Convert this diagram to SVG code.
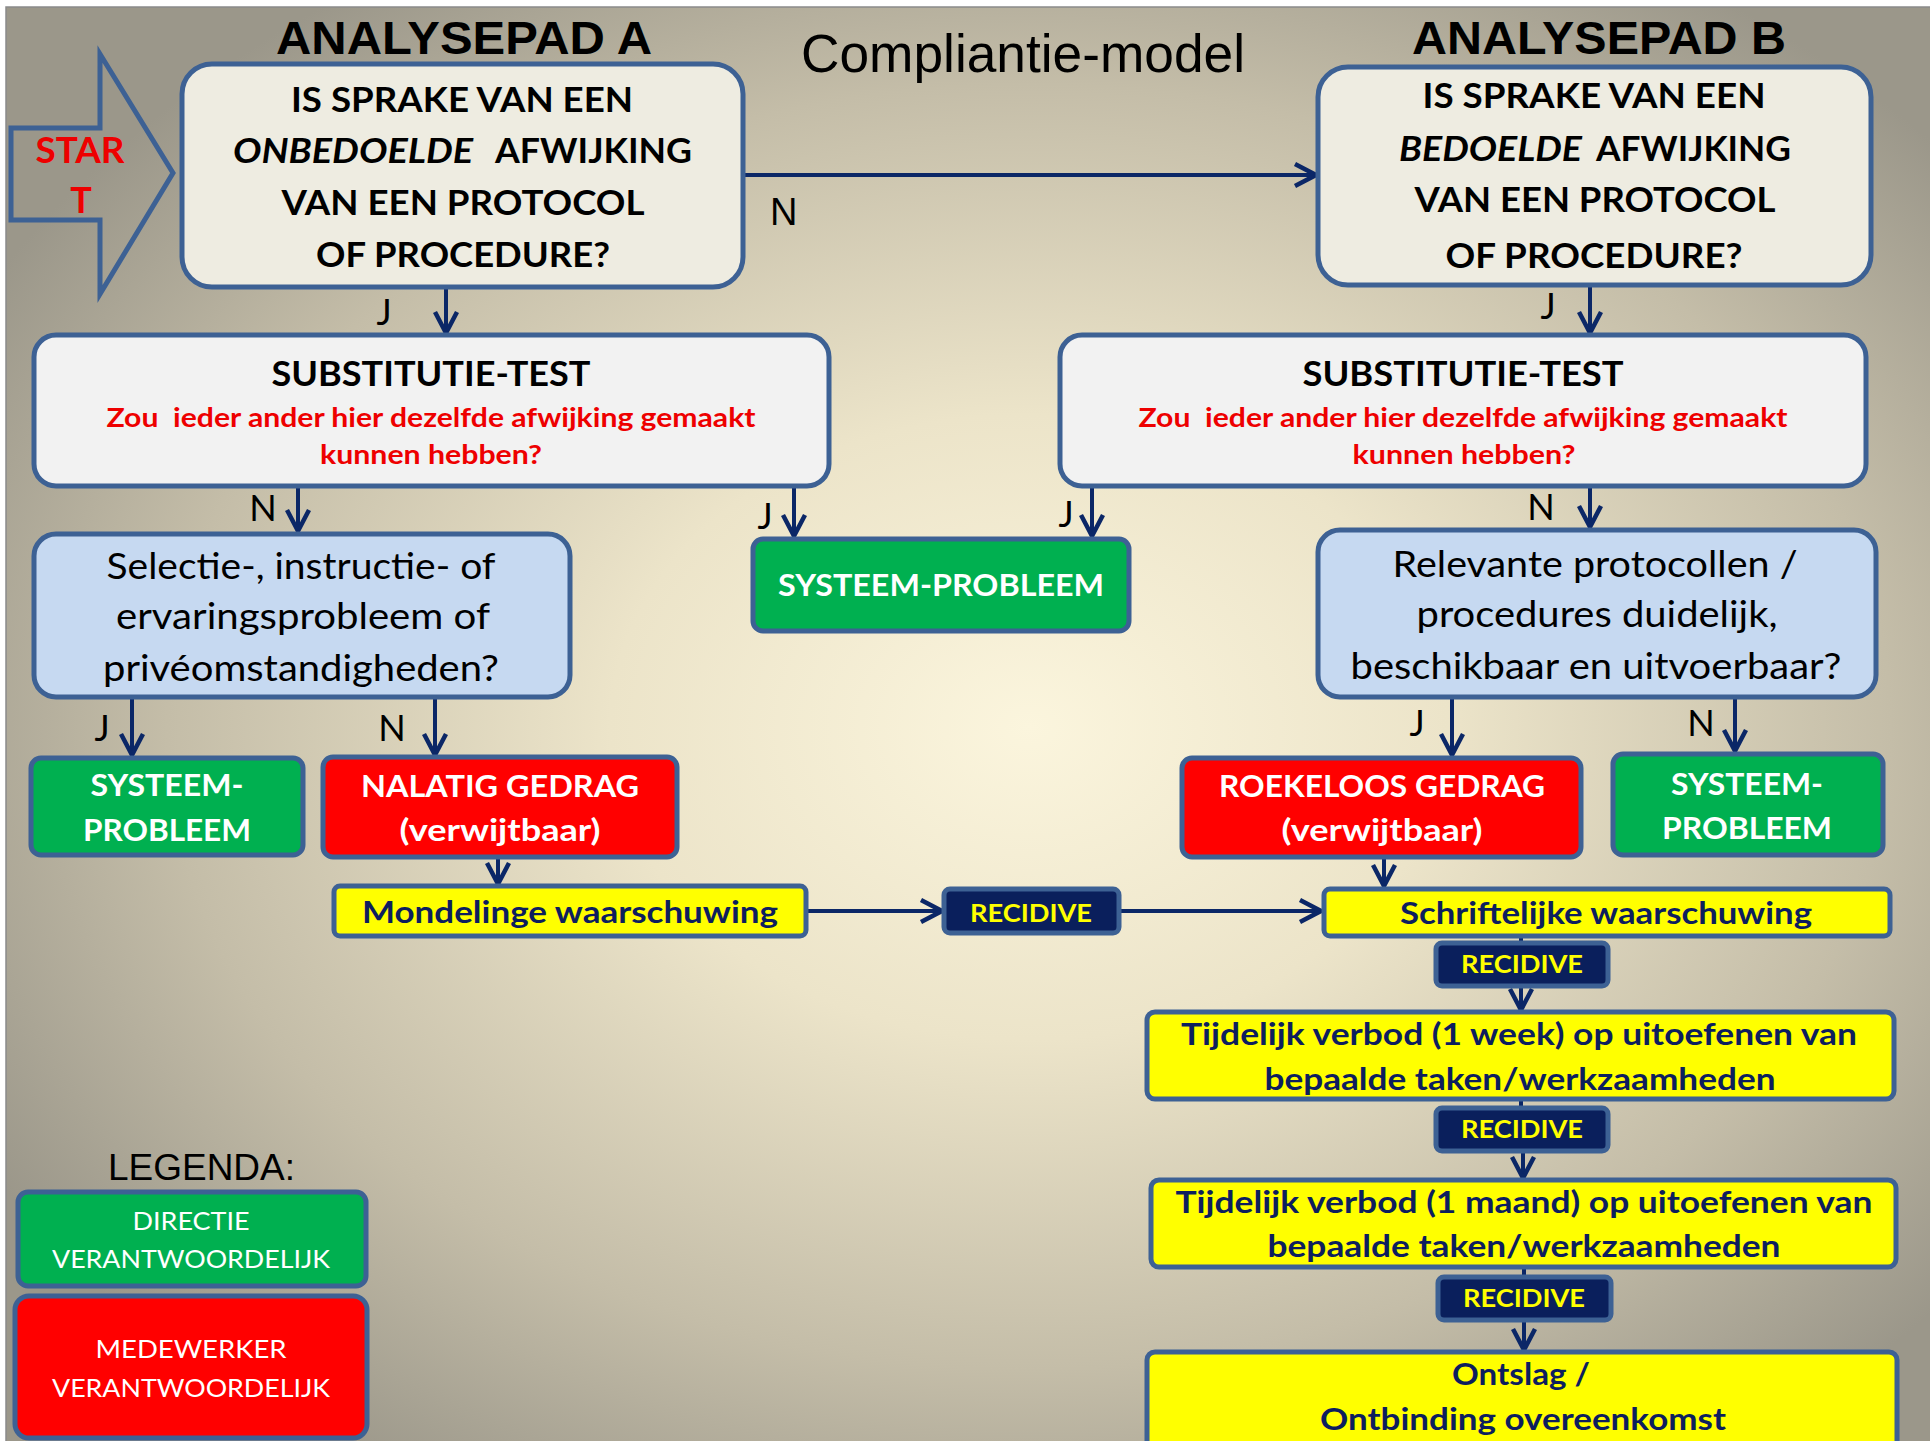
<svg xmlns="http://www.w3.org/2000/svg" width="1930" height="1441" viewBox="0 0 1930 1441">
<defs>
<radialGradient id="bg" cx="0.53" cy="0.5" r="0.62">
<stop offset="0" stop-color="#fbf5dd"/>
<stop offset="0.35" stop-color="#ece4c9"/>
<stop offset="0.72" stop-color="#c4bda8"/>
<stop offset="1" stop-color="#9b978a"/>
</radialGradient>
<marker id="ah" markerUnits="userSpaceOnUse" markerWidth="28" markerHeight="28" viewBox="0 0 28 28" refX="24" refY="14" orient="auto">
<path d="M3,3 L24,14 L3,25" fill="none" stroke="#0b2767" stroke-width="4.5" stroke-linejoin="miter"/>
</marker>
<style>
.bx{stroke:#3d6194;stroke-width:5}
.q{fill:#eeece1}
.s{fill:#f2f2f2}
.lb{fill:#c6d9f1}
.gr{fill:#00b050}
.rd{fill:#ff0000}
.ye{fill:#ffff00}
.nv{fill:#0a1f5c}
.c{font-family:Lato,"Open Sans","Noto Sans",sans-serif}
.b{font-weight:bold}
.m{text-anchor:middle}
.k{fill:#000}
.w{fill:#fff}
.r{fill:#ee0000}
.n{fill:#0d1e5e}
.y{fill:#ffff00}
.ar{font-family:"Liberation Sans",Arial,sans-serif}
.cn{fill:none;stroke:#0b2767;stroke-width:4}
</style>
</defs>
<rect width="1930" height="1441" fill="#ffffff"/>
<rect x="6" y="7" width="1930" height="1440" fill="url(#bg)" stroke="#8a8a8a" stroke-width="1.5"/>

<g id="titles">
<text class="ar b k m" x="464" y="54" font-size="47" textLength="376" lengthAdjust="spacingAndGlyphs">ANALYSEPAD A</text>
<text class="ar k" x="801" y="72" font-size="53" textLength="444" lengthAdjust="spacingAndGlyphs">Compliantie-model</text>
<text class="ar b k m" x="1599" y="54" font-size="47" textLength="374" lengthAdjust="spacingAndGlyphs">ANALYSEPAD B</text>
</g>

<g id="start">
<polygon points="11,128 100,128 100,54 173,173 100,294 100,220 11,220" fill="none" stroke="#3d6194" stroke-width="5"/>
<text class="c b m r" x="80" y="163" font-size="36" textLength="89" lengthAdjust="spacingAndGlyphs">STAR</text>
<text class="c b m r" x="81" y="213" font-size="36">T</text>
</g>

<g id="connectors">
<path class="cn" d="M744,175 H1316" marker-end="url(#ah)"/>
<path class="cn" d="M446,288 V333" marker-end="url(#ah)"/>
<path class="cn" d="M1590,286 V333" marker-end="url(#ah)"/>
<path class="cn" d="M298,487 V531" marker-end="url(#ah)"/>
<path class="cn" d="M794,487 V536" marker-end="url(#ah)"/>
<path class="cn" d="M1092,487 V536" marker-end="url(#ah)"/>
<path class="cn" d="M1590,487 V527" marker-end="url(#ah)"/>
<path class="cn" d="M132,698 V755" marker-end="url(#ah)"/>
<path class="cn" d="M435,698 V755" marker-end="url(#ah)"/>
<path class="cn" d="M1452,698 V755" marker-end="url(#ah)"/>
<path class="cn" d="M1735,698 V751" marker-end="url(#ah)"/>
<path class="cn" d="M498,858 V884" marker-end="url(#ah)"/>
<path class="cn" d="M1384,858 V886" marker-end="url(#ah)"/>
<path class="cn" d="M807,911 H942" marker-end="url(#ah)"/>
<path class="cn" d="M1119,911 H1321" marker-end="url(#ah)"/>
<path class="cn" d="M1521,937 V943"/>
<path class="cn" d="M1521,986 V1010" marker-end="url(#ah)"/>
<path class="cn" d="M1521,1099 V1108"/>
<path class="cn" d="M1523,1151 V1178" marker-end="url(#ah)"/>
<path class="cn" d="M1524,1267 V1277"/>
<path class="cn" d="M1524,1320 V1350" marker-end="url(#ah)"/>
</g>

<g id="labels">
<text class="ar k" x="770" y="225" font-size="38">N</text>
<text class="c k m" x="384" y="325" font-size="36">J</text>
<text class="c k m" x="1548" y="319" font-size="36">J</text>
<text class="c k m" x="263" y="521" font-size="36">N</text>
<text class="c k m" x="765" y="529" font-size="36">J</text>
<text class="c k m" x="1066" y="527" font-size="36">J</text>
<text class="c k m" x="1541" y="520" font-size="36">N</text>
<text class="c k m" x="102" y="741" font-size="36">J</text>
<text class="c k m" x="392" y="741" font-size="36">N</text>
<text class="c k m" x="1417" y="736" font-size="36">J</text>
<text class="c k m" x="1701" y="736" font-size="36">N</text>
</g>

<g id="q-a">
<rect class="bx q" x="182" y="64" width="561" height="223" rx="30"/>
<text class="c b k m" x="462" y="112" font-size="34" textLength="342" lengthAdjust="spacingAndGlyphs">IS SPRAKE VAN EEN</text>
<text class="c b k" x="233" y="163" font-size="34" font-style="italic" textLength="240" lengthAdjust="spacingAndGlyphs">ONBEDOELDE</text>
<text class="c b k" x="495" y="163" font-size="34" textLength="197" lengthAdjust="spacingAndGlyphs">AFWIJKING</text>
<text class="c b k m" x="463" y="215" font-size="34" textLength="363" lengthAdjust="spacingAndGlyphs">VAN EEN PROTOCOL</text>
<text class="c b k m" x="463" y="267" font-size="34" textLength="294" lengthAdjust="spacingAndGlyphs">OF PROCEDURE?</text>
</g>

<g id="q-b">
<rect class="bx q" x="1318" y="67" width="553" height="218" rx="30"/>
<text class="c b k m" x="1594" y="108" font-size="34" textLength="343" lengthAdjust="spacingAndGlyphs">IS SPRAKE VAN EEN</text>
<text class="c b k" x="1399" y="161" font-size="34" font-style="italic" textLength="183" lengthAdjust="spacingAndGlyphs">BEDOELDE</text>
<text class="c b k" x="1596" y="161" font-size="34" textLength="195" lengthAdjust="spacingAndGlyphs">AFWIJKING</text>
<text class="c b k m" x="1595" y="212" font-size="34" textLength="361" lengthAdjust="spacingAndGlyphs">VAN EEN PROTOCOL</text>
<text class="c b k m" x="1594" y="268" font-size="34" textLength="297" lengthAdjust="spacingAndGlyphs">OF PROCEDURE?</text>
</g>

<g id="subst-a">
<rect class="bx s" x="34" y="335" width="795" height="151" rx="22"/>
<text class="c b k m" x="431" y="386" font-size="35" textLength="319" lengthAdjust="spacingAndGlyphs">SUBSTITUTIE-TEST</text>
<text class="c b r m" x="431" y="427" font-size="27" textLength="649" lengthAdjust="spacingAndGlyphs">Zou&#160; ieder ander hier dezelfde afwijking gemaakt</text>
<text class="c b r m" x="431" y="464" font-size="27" textLength="222" lengthAdjust="spacingAndGlyphs">kunnen hebben?</text>
</g>

<g id="subst-b">
<rect class="bx s" x="1060" y="335" width="806" height="151" rx="22"/>
<text class="c b k m" x="1463" y="386" font-size="35" textLength="321" lengthAdjust="spacingAndGlyphs">SUBSTITUTIE-TEST</text>
<text class="c b r m" x="1463" y="427" font-size="27" textLength="649" lengthAdjust="spacingAndGlyphs">Zou&#160; ieder ander hier dezelfde afwijking gemaakt</text>
<text class="c b r m" x="1464" y="464" font-size="27" textLength="223" lengthAdjust="spacingAndGlyphs">kunnen hebben?</text>
</g>

<g id="selectie">
<rect class="bx lb" x="34" y="534" width="536" height="163" rx="22"/>
<text class="c k m" x="301" y="579" font-size="36" textLength="389" lengthAdjust="spacingAndGlyphs">Selectie-, instructie- of</text>
<text class="c k m" x="303" y="629" font-size="36" textLength="374" lengthAdjust="spacingAndGlyphs">ervaringsprobleem of</text>
<text class="c k m" x="301" y="681" font-size="36" textLength="396" lengthAdjust="spacingAndGlyphs">privéomstandigheden?</text>
</g>

<g id="relevante">
<rect class="bx lb" x="1318" y="530" width="558" height="167" rx="22"/>
<text class="c k m" x="1595" y="577" font-size="36" textLength="405" lengthAdjust="spacingAndGlyphs">Relevante protocollen /</text>
<text class="c k m" x="1597" y="627" font-size="36" textLength="361" lengthAdjust="spacingAndGlyphs">procedures duidelijk,</text>
<text class="c k m" x="1596" y="679" font-size="36" textLength="491" lengthAdjust="spacingAndGlyphs">beschikbaar en uitvoerbaar?</text>
</g>

<g id="systeem-mid">
<rect class="bx gr" x="753" y="539" width="376" height="92" rx="10"/>
<text class="c b w m" x="941" y="596" font-size="31" textLength="326" lengthAdjust="spacingAndGlyphs">SYSTEEM-PROBLEEM</text>
</g>

<g id="systeem-left">
<rect class="bx gr" x="31" y="758" width="272" height="97" rx="10"/>
<text class="c b w m" x="167" y="796" font-size="31" textLength="153" lengthAdjust="spacingAndGlyphs">SYSTEEM-</text>
<text class="c b w m" x="167" y="841" font-size="31" textLength="168" lengthAdjust="spacingAndGlyphs">PROBLEEM</text>
</g>

<g id="nalatig">
<rect class="bx rd" x="323" y="757" width="354" height="100" rx="10"/>
<text class="c b w m" x="500" y="797" font-size="31" textLength="278" lengthAdjust="spacingAndGlyphs">NALATIG GEDRAG</text>
<text class="c b w m" x="500" y="841" font-size="31" textLength="201" lengthAdjust="spacingAndGlyphs">(verwijtbaar)</text>
</g>

<g id="roekeloos">
<rect class="bx rd" x="1182" y="758" width="399" height="99" rx="10"/>
<text class="c b w m" x="1382" y="797" font-size="31" textLength="326" lengthAdjust="spacingAndGlyphs">ROEKELOOS GEDRAG</text>
<text class="c b w m" x="1382" y="841" font-size="31" textLength="201" lengthAdjust="spacingAndGlyphs">(verwijtbaar)</text>
</g>

<g id="systeem-right">
<rect class="bx gr" x="1613" y="754" width="270" height="101" rx="10"/>
<text class="c b w m" x="1747" y="795" font-size="31" textLength="152" lengthAdjust="spacingAndGlyphs">SYSTEEM-</text>
<text class="c b w m" x="1747" y="839" font-size="31" textLength="170" lengthAdjust="spacingAndGlyphs">PROBLEEM</text>
</g>

<g id="mondeling">
<rect class="bx ye" x="334" y="886" width="472" height="50" rx="6"/>
<text class="c b n m" x="570" y="923" font-size="31" textLength="416" lengthAdjust="spacingAndGlyphs">Mondelinge waarschuwing</text>
</g>

<g id="recidive-1">
<rect class="bx nv" x="944" y="889" width="175" height="44" rx="6"/>
<text class="c b y m" x="1031" y="922" font-size="25" textLength="122" lengthAdjust="spacingAndGlyphs">RECIDIVE</text>
</g>

<g id="schriftelijk">
<rect class="bx ye" x="1324" y="889" width="566" height="47" rx="6"/>
<text class="c b n m" x="1606" y="924" font-size="31" textLength="412" lengthAdjust="spacingAndGlyphs">Schriftelijke waarschuwing</text>
</g>

<g id="recidive-2">
<rect class="bx nv" x="1436" y="943" width="172" height="43" rx="6"/>
<text class="c b y m" x="1522" y="973" font-size="25" textLength="122" lengthAdjust="spacingAndGlyphs">RECIDIVE</text>
</g>

<g id="verbod-week">
<rect class="bx ye" x="1147" y="1012" width="747" height="87" rx="8"/>
<text class="c b n m" x="1519" y="1045" font-size="31" textLength="676" lengthAdjust="spacingAndGlyphs">Tijdelijk verbod (1 week) op uitoefenen van</text>
<text class="c b n m" x="1520" y="1090" font-size="31" textLength="511" lengthAdjust="spacingAndGlyphs">bepaalde taken/werkzaamheden</text>
</g>

<g id="recidive-3">
<rect class="bx nv" x="1436" y="1108" width="172" height="43" rx="6"/>
<text class="c b y m" x="1522" y="1138" font-size="25" textLength="122" lengthAdjust="spacingAndGlyphs">RECIDIVE</text>
</g>

<g id="verbod-maand">
<rect class="bx ye" x="1151" y="1180" width="745" height="87" rx="8"/>
<text class="c b n m" x="1524" y="1213" font-size="31" textLength="697" lengthAdjust="spacingAndGlyphs">Tijdelijk verbod (1 maand) op uitoefenen van</text>
<text class="c b n m" x="1524" y="1257" font-size="31" textLength="513" lengthAdjust="spacingAndGlyphs">bepaalde taken/werkzaamheden</text>
</g>

<g id="recidive-4">
<rect class="bx nv" x="1438" y="1277" width="173" height="43" rx="6"/>
<text class="c b y m" x="1524" y="1307" font-size="25" textLength="122" lengthAdjust="spacingAndGlyphs">RECIDIVE</text>
</g>

<g id="ontslag">
<rect class="bx ye" x="1147" y="1352" width="750" height="100" rx="8"/>
<text class="c b n m" x="1521" y="1385" font-size="31" textLength="138" lengthAdjust="spacingAndGlyphs">Ontslag /</text>
<text class="c b n m" x="1523" y="1430" font-size="31" textLength="406" lengthAdjust="spacingAndGlyphs">Ontbinding overeenkomst</text>
</g>

<g id="legenda">
<text class="ar k" x="108" y="1180" font-size="36" textLength="187" lengthAdjust="spacingAndGlyphs">LEGENDA:</text>
<rect class="bx gr" x="18" y="1192" width="348" height="94" rx="10"/>
<text class="c w m" x="191" y="1230" font-size="25" textLength="117" lengthAdjust="spacingAndGlyphs">DIRECTIE</text>
<text class="c w m" x="191" y="1268" font-size="25" textLength="278" lengthAdjust="spacingAndGlyphs">VERANTWOORDELIJK</text>
<rect class="bx rd" x="15" y="1296" width="352" height="142" rx="14"/>
<text class="c w m" x="191" y="1358" font-size="25" textLength="191" lengthAdjust="spacingAndGlyphs">MEDEWERKER</text>
<text class="c w m" x="191" y="1397" font-size="25" textLength="278" lengthAdjust="spacingAndGlyphs">VERANTWOORDELIJK</text>
</g>
</svg>
